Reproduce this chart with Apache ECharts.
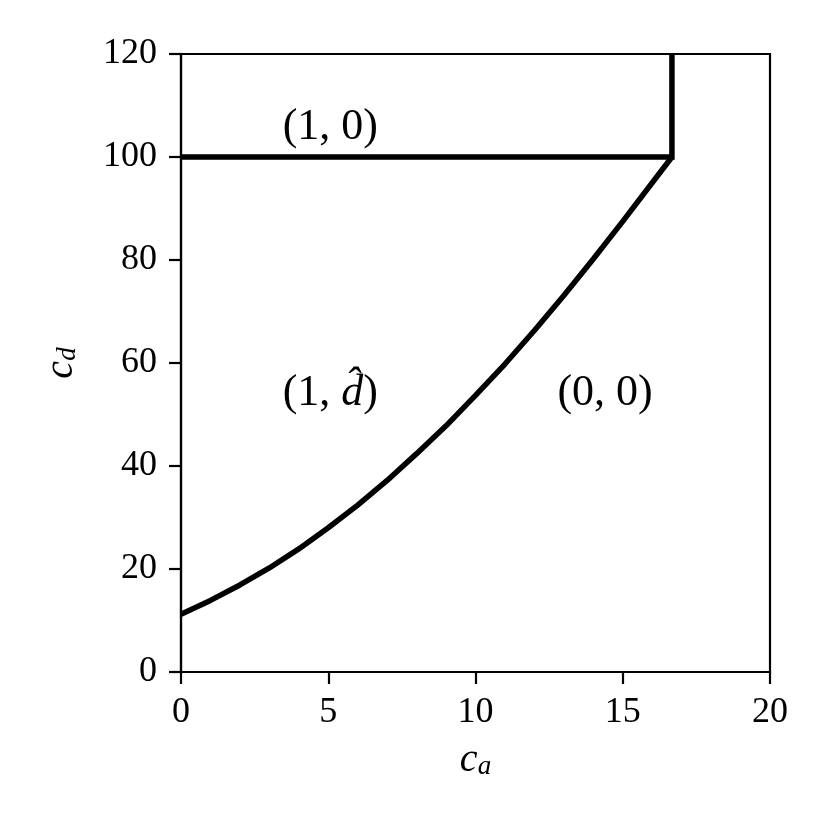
<!DOCTYPE html>
<html>
<head>
<meta charset="utf-8">
<script src="https://cdn.jsdelivr.net/npm/echarts@6/dist/echarts.min.js"></script>
<style>
  html, body { margin: 0; padding: 0; background: #fff; }
  #main { width: 830px; height: 830px; }
</style>
</head>
<body>
<div id="main"></div>
<script>
// boundary curve between (1, d^) and (0, 0)
var curveX = [0, 1, 2, 3, 4, 5, 6, 7, 8, 9, 10, 11, 12, 13, 14, 15, 16, 16.67];
var curveY = [11.2, 13.9, 16.9, 20.2, 23.9, 28.0, 32.4, 37.2, 42.4, 47.8, 53.7, 59.8, 66.3, 73.1, 80.2, 87.5, 95.0, 100];

// horizontal cap at c_d = 100, then vertical line up to the top
var capX = [0, 16.67, 16.67];
var capY = [100, 100, 120];

// region labels
var regionNames = ['(1, 0)', '(1, {i|d\u0302})', '(0, 0)'];
var regionX = [5.07, 5.07, 14.4];
var regionY = [105.8, 54, 54];

var xTicks = [0, 5, 10, 15, 20];
var yTicks = [0, 20, 40, 60, 80, 100, 120];

var font = '"Liberation Serif", "DejaVu Serif", serif';

function zip(a, b) {
  return a.map(function (v, i) { return [v, b[i]]; });
}

var nameRich = function (sub) {
  return {
    c: { fontFamily: font, fontStyle: 'italic', fontSize: 40, lineHeight: 40, color: '#000' },
    s: { fontFamily: font, fontStyle: 'italic', fontSize: 27, lineHeight: 20, color: '#000', verticalAlign: 'bottom' }
  };
};

var chart = echarts.init(document.getElementById('main'));
chart.setOption({
  backgroundColor: '#fff',
  animation: false,
  grid: {
    left: 181, top: 54, right: 60, bottom: 158,
    show: true, borderColor: '#000', borderWidth: 2.2,
    backgroundColor: 'transparent'
  },
  xAxis: {
    type: 'value',
    min: xTicks[0], max: xTicks[xTicks.length - 1], interval: 5,
    name: '{c|c}{s|a}',
    nameLocation: 'middle', nameGap: 68,
    nameTextStyle: { rich: nameRich() },
    axisLine: { show: true, onZero: false, lineStyle: { color: '#000', width: 2.2 } },
    axisTick: { show: true, inside: false, length: 12, lineStyle: { color: '#000', width: 2.2 } },
    axisLabel: { color: '#000', fontFamily: font, fontSize: 36, margin: 23 },
    splitLine: { show: false }
  },
  yAxis: {
    type: 'value',
    min: yTicks[0], max: yTicks[yTicks.length - 1], interval: 20,
    name: '{c|c}{s|d}',
    nameLocation: 'middle', nameGap: 100, nameRotate: 90,
    nameTextStyle: { rich: nameRich() },
    axisLine: { show: true, onZero: false, lineStyle: { color: '#000', width: 2.2 } },
    axisTick: { show: true, inside: false, length: 12, lineStyle: { color: '#000', width: 2.2 } },
    axisLabel: { color: '#000', fontFamily: font, fontSize: 36, margin: 24 },
    splitLine: { show: false }
  },
  series: [
    {
      type: 'line',
      data: zip(curveX, curveY),
      showSymbol: false,
      lineStyle: { color: '#000', width: 5.5 },
      silent: true
    },
    {
      type: 'line',
      data: zip(capX, capY),
      showSymbol: false,
      lineStyle: { color: '#000', width: 5.5, join: 'miter' },
      silent: true
    },
    {
      type: 'scatter',
      symbolSize: 0,
      silent: true,
      itemStyle: { opacity: 1 },
      data: regionNames.map(function (n, i) {
        return { value: [regionX[i], regionY[i]], name: n };
      }),
      label: {
        show: true,
        position: 'inside',
        opacity: 1,
        formatter: function (p) { return p.name; },
        fontFamily: font,
        fontSize: 44,
        color: '#000',
        rich: {
          i: { fontFamily: font, fontStyle: 'italic', fontSize: 44, color: '#000' }
        }
      }
    }
  ]
});
</script>
</body>
</html>
